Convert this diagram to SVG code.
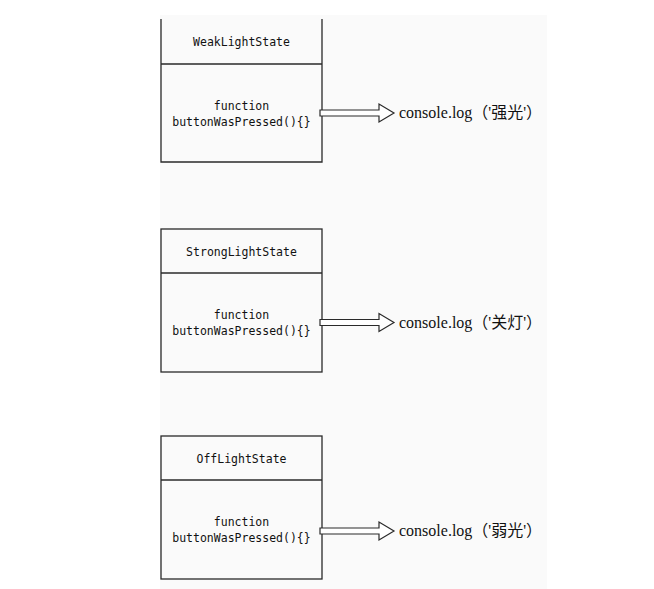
<svg xmlns="http://www.w3.org/2000/svg" width="654" height="589" viewBox="0 0 654 589">
<style>
.box{fill:none;stroke:#2a2a2a;stroke-width:1.3}
.mono{font-family:"DejaVu Sans Mono","Liberation Mono",monospace;font-size:11.5px;fill:#111;text-anchor:middle}
.serif{font-family:"Liberation Serif","Noto Sans CJK SC",serif;font-size:16px;fill:#111}
.arr{fill:#fff;stroke:#2a2a2a;stroke-width:1.2;stroke-linejoin:miter}
</style>
<defs>
<path id="arrow" d="M0,-3 L59,-3 L59,-9 L74,0 L59,9 L59,3 L0,3 Z"/>
</defs>
<rect x="0" y="0" width="654" height="589" fill="#fff"/>
<rect x="160" y="15" width="387" height="574" fill="#fafafa"/>
<g id="weak">
<path class="box" d="M161,19 V162 H322 V19 M161,64 H322"/>
<text class="mono" x="241.5" y="46">WeakLightState</text>
<text class="mono" x="241.5" y="110">function</text>
<text class="mono" x="241.5" y="126">buttonWasPressed(){}</text>
</g>
<g id="strong">
<rect class="box" x="161" y="229" width="161" height="143"/>
<path class="box" d="M161,273 H322"/>
<text class="mono" x="241.5" y="256">StrongLightState</text>
<text class="mono" x="241.5" y="319">function</text>
<text class="mono" x="241.5" y="335">buttonWasPressed(){}</text>
</g>
<g id="off">
<rect class="box" x="161" y="436" width="161" height="143"/>
<path class="box" d="M161,480 H322"/>
<text class="mono" x="241.5" y="463">OffLightState</text>
<text class="mono" x="241.5" y="526">function</text>
<text class="mono" x="241.5" y="542">buttonWasPressed(){}</text>
</g>
<g id="connectors">
<use href="#arrow" class="arr" transform="translate(320,113)"/>
<use href="#arrow" class="arr" transform="translate(320,322.5)"/>
<use href="#arrow" class="arr" transform="translate(320,531)"/>
</g>
<g id="out1"><text class="serif" x="399" y="118">console.log（'强光'）</text></g>
<g id="out2"><text class="serif" x="399" y="328">console.log（'关灯'）</text></g>
<g id="out3"><text class="serif" x="399" y="536">console.log（'弱光'）</text></g>
</svg>
